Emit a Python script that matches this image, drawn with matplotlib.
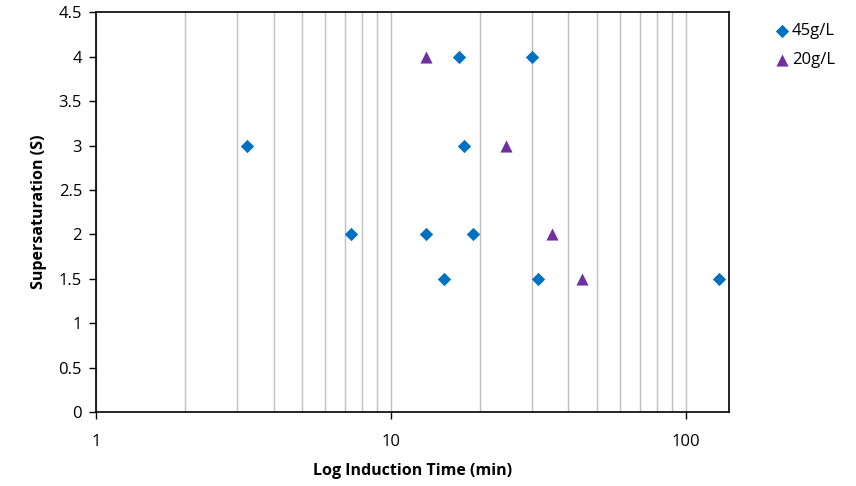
import numpy as np
import matplotlib.pyplot as plt
from matplotlib.ticker import LogLocator, NullFormatter

# 45 g/L series
t_45 = [3.25, 7.35, 13.1, 15.1, 17.0, 17.7, 19.0, 30.1, 31.6, 129.8]
s_45 = [3.0, 2.0, 2.0, 1.5, 4.0, 3.0, 2.0, 4.0, 1.5, 1.5]

# 20 g/L series
t_20 = [13.2, 24.5, 35.1, 44.6]
s_20 = [4.0, 3.0, 2.0, 1.5]

blue = "#0070C0"
purple = "#7030A0"

plt.rcParams['font.family'] = ['Open Sans', 'DejaVu Sans']

fig = plt.figure(figsize=(8.56, 4.86), dpi=100)
ax = fig.add_axes([0.1121, 0.1523, 0.7395, 0.822])

ax.scatter(t_45, s_45, marker='D', s=46, color=blue, label='45g/L', zorder=3, linewidths=0)
ax.scatter(t_20, s_20, marker='^', s=76, color=purple, label='20g/L', zorder=3, linewidths=0)

ax.set_xscale('log')
ax.set_xlim(1, 140)
ax.set_ylim(0, 4.5)
ax.set_yticks(np.arange(0, 4.51, 0.5))
ax.set_yticklabels(['0', '0.5', '1', '1.5', '2', '2.5', '3', '3.5', '4', '4.5'])
ax.set_xticks([1, 10, 100])
ax.set_xticklabels(['1', '10', '100'])
ax.xaxis.set_minor_locator(LogLocator(base=10, subs=np.arange(2, 10)))
ax.xaxis.set_minor_formatter(NullFormatter())

ax.grid(True, axis='x', which='both', color='#BFBFBF', linewidth=1.0, zorder=0)
ax.tick_params(axis='x', which='minor', length=0)
ax.tick_params(axis='x', which='major', direction='out', length=5, width=1, pad=11, labelsize=12)
ax.tick_params(axis='y', direction='out', length=5, width=1, pad=5, labelsize=12)
for sp in ax.spines.values():
    sp.set_linewidth(1.2)
    sp.set_color('black')

ax.set_xlabel('Log Induction Time (min)', fontsize=11.5, fontweight='bold', labelpad=9)
ax.set_ylabel('Supersaturation (S)', fontsize=11.5, fontweight='bold', labelpad=8)

ax.legend(loc='upper left', bbox_to_anchor=(1.06, 0.99), frameon=False, fontsize=12,
          handletextpad=0.1, handlelength=1.0, labelspacing=0.8, borderaxespad=0)

fig.savefig('out.png', dpi=100)
